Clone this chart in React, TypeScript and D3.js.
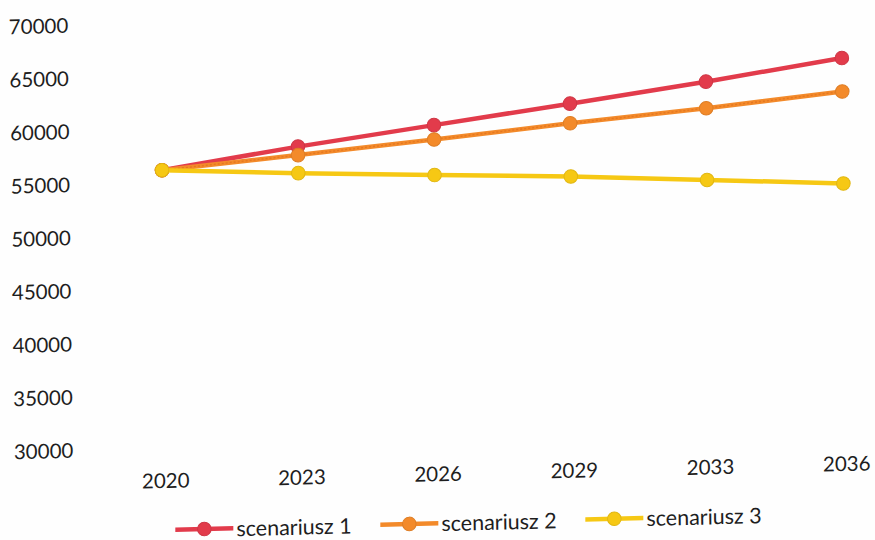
import React from "react";
import * as d3 from "d3";

// Population projection for three scenarios
const years = ["2020", "2023", "2026", "2029", "2033", "2036"];
const scenario1 = [56100, 58000, 59700, 61400, 63150, 65050];
const scenario2 = [56100, 57200, 58350, 59550, 60650, 61900];
const scenario3 = [56100, 55500, 55000, 54550, 53900, 53250];
const yTicks = [30000, 35000, 40000, 45000, 50000, 55000, 60000, 65000, 70000];
const seriesNames = ["scenariusz 1", "scenariusz 2", "scenariusz 3"];
const seriesColors = ["#e23b4b", "#f38a2a", "#f6c814"];
const seriesValues = [scenario1, scenario2, scenario3];

const W = 875;
const H = 540;
const FONT = "Lato, 'Open Sans', sans-serif";

export default function App() {
  const x = d3.scalePoint<string>().domain(years).range([162, 843]);
  const y = d3.scaleLinear().domain([30000, 70000]).range([447.5, 22.5]);
  const line = d3
    .line<number>()
    .x((_, i) => x(years[i]) as number)
    .y((d) => y(d));

  // the whole page sits slightly tilted
  const tilt = "translate(162,170) matrix(1,-0.025,0.012,1,0,0) translate(-162,-170)";

  return (
    <svg
      width={W}
      height={H}
      style={{ position: "absolute", left: 0, top: 0, background: "#fff" }}
    >
      <rect width={W} height={H} fill="#fefefe" />
      <g transform={tilt} fontFamily={FONT} fill="#1e1e1e">
        {yTicks.map((t) => (
          <text
            key={t}
            x={70}
            y={y(t)}
            textAnchor="end"
            dominantBaseline="central"
            fontSize={20.5}
          >
            {t}
          </text>
        ))}
        {years.map((yr) => (
          <text
            key={yr}
            x={x(yr) as number}
            y={480}
            textAnchor="middle"
            dominantBaseline="central"
            fontSize={20.5}
          >
            {yr}
          </text>
        ))}
        {seriesValues.map((vals, si) => (
          <g key={si}>
            <path
              d={line(vals) || ""}
              fill="none"
              stroke={seriesColors[si]}
              strokeWidth={4.5}
              strokeLinejoin="round"
            />
            {si === 1 && (
              <path
                d={line(vals) || ""}
                fill="none"
                stroke="#d9661a"
                strokeWidth={1.3}
                strokeDasharray="2 2"
                opacity={0.55}
              />
            )}
            {vals.map((v, i) => (
              <circle
                key={i}
                cx={x(years[i]) as number}
                cy={y(v)}
                r={6.8}
                fill={seriesColors[si]}
                stroke={d3.color(seriesColors[si])!.darker(0.25).toString()}
                strokeWidth={1}
              />
            ))}
          </g>
        ))}
        {seriesNames.map((name, i) => {
          const x0 = 171 + i * 205;
          return (
            <g key={name}>
              <line
                x1={x0}
                x2={x0 + 58}
                y1={530}
                y2={530}
                stroke={seriesColors[i]}
                strokeWidth={4.5}
              />
              <circle
                cx={x0 + 29}
                cy={530}
                r={6.8}
                fill={seriesColors[i]}
                stroke={d3.color(seriesColors[i])!.darker(0.25).toString()}
                strokeWidth={1}
              />
              <text
                x={x0 + 61}
                y={530}
                dominantBaseline="central"
                fontSize={21.5}
              >
                {name}
              </text>
            </g>
          );
        })}
      </g>
    </svg>
  );
}
